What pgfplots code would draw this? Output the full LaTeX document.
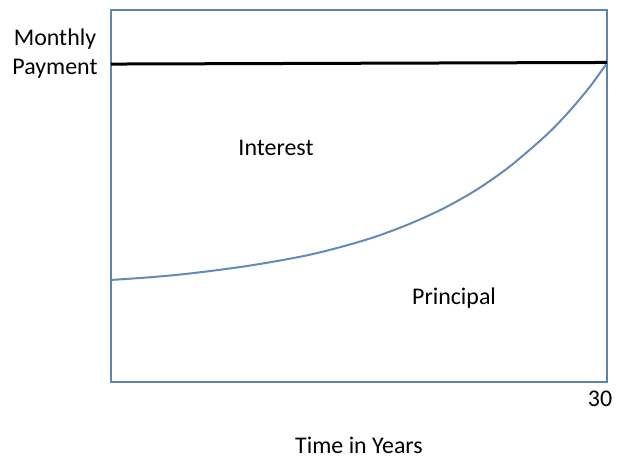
\documentclass[border=0pt]{standalone}
\usepackage{pgfplots}
\pgfplotsset{compat=1.18}
\usepackage{fontspec}
\setmainfont{Carlito}
\definecolor{boxblue}{RGB}{96,130,178}
\definecolor{curveblue}{RGB}{98,138,188}
\begin{document}
\begin{tikzpicture}
\useasboundingbox (-55.5bp,-37bp) rectangle (253.5bp,191bp);
\begin{axis}[
  at={(0,0)}, anchor=south west,
  scale only axis, width=248bp, height=186bp,
  xmin=0, xmax=30, ymin=0, ymax=1.17,
  axis line style={draw=boxblue, line width=1bp},
  xtick={30}, ytick=\empty, major tick length=0pt,
  tick label style={font=\fontsize{12}{14}\selectfont},
  xticklabel style={yshift=-1bp, xshift=-3.5bp},
  /pgf/number format/assume math mode=true,
  clip=false,
]
% principal share of the payment
\addplot[curveblue, line width=1bp, smooth] coordinates {
  (0,0.321) (2,0.328) (4,0.337) (6,0.349) (8,0.363) (10,0.380)
  (12,0.400) (14,0.426) (16,0.457) (18,0.496) (20,0.543) (22,0.601)
  (24,0.673) (26,0.761) (27,0.811) (28,0.868) (29,0.931) (30,1.003)
};
% monthly payment
\addplot[black, line width=1.5bp] coordinates {(0,1.0) (30,1.005)};
\node[font=\fontsize{12}{14.5}\selectfont, align=center]
  at (axis cs:0,1) [xshift=-28bp, yshift=5bp] {Monthly\\Payment};
\node[font=\fontsize{12}{14}\selectfont] at (axis cs:9.98,0.736) {Interest};
\node[font=\fontsize{12}{14}\selectfont] at (axis cs:20.75,0.264) {Principal};
\node[font=\fontsize{12}{14}\selectfont, anchor=base, inner sep=0pt]
  at (axis description cs:0.5,0) [yshift=-35.5bp] {Time in Years};
\end{axis}
\end{tikzpicture}
\end{document}
